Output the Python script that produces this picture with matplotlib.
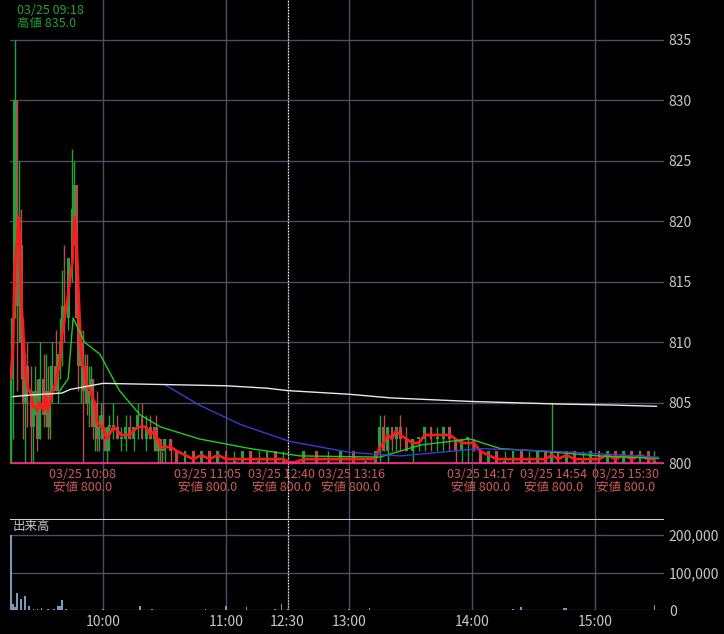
import matplotlib
matplotlib.use("Agg")
import matplotlib.pyplot as plt
import pandas as pd

plt.rcParams['font.family'] = ['Noto Sans CJK JP', 'DejaVu Sans']

# minutes from 09:00, lunch (11:30-12:30) removed: 12:30 -> 150
t = [15, 16, 17, 18, 19, 20, 21, 22, 23, 25, 26, 27, 28, 29, 31, 32, 33, 34, 35, 37,
     38, 39, 40, 41, 43, 45, 46, 47, 48, 49, 50, 51, 52, 53, 54, 55, 56, 57, 58, 59,
     60, 61, 62, 63, 65, 67, 69, 71, 73, 75, 77, 79, 81, 83, 85, 86, 87, 88, 89, 90,
     93, 96, 100, 104, 108, 112, 116, 120, 124, 128, 132, 136, 140, 144, 148, 152,
     158, 164, 170, 176, 182, 188, 193, 195, 197, 199, 201, 203, 205, 208, 211, 214,
     217, 220, 223, 226, 229, 232, 235, 238, 241, 244, 248, 252, 256, 260, 264, 268,
     272, 276, 279, 282, 286, 290, 294, 298, 302, 306, 310, 314, 318, 322, 326, 329]
o = [800, 807, 812, 830, 813, 818, 810, 805, 808, 806, 803, 805, 806, 802, 807, 804, 806, 803, 806, 808,
     806, 809, 810, 813, 812, 817, 821, 823, 812, 808, 810, 806, 808, 805, 806, 807, 803, 805, 802, 803,
     804, 802, 801, 803, 803, 803, 802, 802, 803, 802, 803, 804, 802, 803, 802, 803, 801, 802, 801, 801,
     802, 801, 800, 801, 800, 801, 800, 801, 800, 800, 801, 800, 800, 801, 800, 800,
     800, 801, 800, 800, 801, 800, 800, 801, 803, 801, 803, 802, 803, 802, 801, 802,
     802, 803, 802, 802, 803, 802, 801, 802, 802, 801, 800, 801, 800, 800, 801, 800,
     800, 801, 800, 801, 800, 801, 800, 800, 801, 800, 801, 800, 801, 800, 801, 800]
h = [812, 815, 835, 830, 825, 821, 812, 809, 810, 808, 806, 808, 807, 810, 809, 809, 808, 808, 810, 811,
     809, 812, 816, 818, 817, 826, 825, 823, 813, 811, 811, 809, 809, 808, 808, 807, 805, 806, 804, 805,
     805, 803, 803, 804, 805, 804, 803, 804, 804, 803, 805, 805, 804, 804, 803, 804, 802, 802, 801, 802,
     802, 801, 801, 801, 801, 801, 801, 801, 801, 801, 801, 801, 801, 801, 801, 800,
     801, 801, 801, 801, 801, 800, 801, 804, 804, 803, 803, 803, 804, 803, 802, 802,
     803, 803, 803, 803, 803, 802, 802, 802, 802, 801, 801, 801, 801, 801, 801, 801,
     801, 801, 805, 801, 801, 801, 801, 801, 801, 801, 801, 801, 801, 801, 801, 801]
l = [800, 802, 812, 806, 810, 807, 802, 800, 803, 800, 800, 804, 801, 802, 803, 803, 802, 802, 805, 806,
     805, 807, 808, 810, 811, 815, 818, 812, 806, 805, 800, 805, 804, 803, 804, 802, 801, 801, 801, 802,
     802, 801, 800, 801, 802, 802, 801, 801, 802, 801, 802, 802, 801, 802, 801, 801, 800, 800, 800, 800,
     800, 800, 800, 800, 800, 800, 800, 800, 800, 800, 800, 800, 800, 800, 800, 800,
     800, 800, 800, 800, 800, 800, 800, 800, 801, 800, 801, 801, 801, 801, 800, 801,
     801, 801, 801, 801, 801, 800, 800, 800, 801, 800, 800, 800, 800, 800, 800, 800,
     800, 800, 800, 800, 800, 800, 800, 800, 800, 800, 800, 800, 800, 800, 800, 800]
c = [807, 812, 830, 813, 818, 810, 805, 808, 806, 803, 805, 806, 802, 807, 804, 806, 803, 806, 808, 806,
     809, 810, 813, 812, 817, 821, 823, 812, 808, 810, 806, 808, 805, 806, 807, 803, 805, 802, 803, 804,
     802, 801, 803, 803, 803, 802, 802, 803, 802, 803, 804, 802, 803, 802, 803, 801, 802, 801, 801, 802,
     801, 800, 801, 800, 801, 800, 801, 800, 800, 801, 800, 800, 801, 800, 800, 800,
     801, 800, 800, 801, 800, 800, 801, 803, 801, 803, 802, 803, 802, 801, 802, 802,
     803, 802, 802, 803, 802, 801, 802, 802, 801, 800, 801, 800, 800, 801, 800, 800,
     801, 800, 801, 800, 801, 800, 800, 801, 800, 801, 800, 801, 800, 801, 800, 800]

vwap_t = [16, 22, 40, 44, 60, 90, 120, 140, 150, 180, 200, 240, 280, 310, 330]
vwap = [805.5, 805.6, 805.8, 806.1, 806.6, 806.5, 806.4, 806.2, 806.0, 805.7, 805.4, 805.1, 804.9, 804.8, 804.7]
green_t = [39, 43, 45.4, 51, 58.5, 68, 78, 88, 107, 132, 156, 195, 205, 215, 239, 254, 273, 302, 331]
green = [806, 807, 812, 810, 809, 806, 804, 803, 802, 801.2, 800.6, 800.5, 801, 801.5, 802, 801.2, 801, 800.6, 800.4]
blue_t = [90, 107, 127, 151, 180, 205, 244, 278, 331]
blue = [806.5, 804.8, 803.2, 801.8, 800.9, 800.6, 801.2, 801.0, 800.5]

vol_t = [15, 16, 17, 18, 20, 22, 24, 26, 28, 30, 33, 36, 38, 39, 40, 42, 44, 48, 52, 60,
         78, 84, 110, 120, 130, 144, 147, 150, 160, 180, 190, 260, 264, 285, 286, 329]
vol = [200000, 15000, 8000, 45000, 30000, 38000, 10000, 3000, 2000, 6000, 3000, 2000, 10000, 10000, 28000, 2000, 1000, 1000, 1000, 2000,
       12000, 2000, 3000, 10000, 9000, 3000, 15000, 4000, 1000, 3000, 5000, 3000, 8000, 6000, 6000, 14000]

low_pos = [50, 111, 147, 181, 244, 280, 315]
low_time = ['10:08', '11:05', '12:40', '13:16', '14:17', '14:54', '15:30']
tick_t = [60, 120, 150, 180, 240, 300]
tick_lab = ['10:00', '11:00', '12:30', '13:00', '14:00', '15:00']

grid_c = '#4a4e5e'
fig = plt.figure(figsize=(7.24, 6.34), dpi=100, facecolor='black')
ax = fig.add_axes([10/724, 114/634, 654/724, 520/634], facecolor='black')
av = fig.add_axes([10/724, 24/634, 654/724, 90/634], facecolor='black')
x0, x1 = 14.6, 333.7
for a in (ax, av):
    a.set_xlim(x0, x1)
    for s in a.spines.values():
        s.set_visible(False)
    a.tick_params(colors='#c8c8c8', length=0, labelsize=10)
    a.set_xticks(tick_t)
    a.yaxis.tick_right()
    a.grid(True, color=grid_c, lw=1)
    a.set_axisbelow(True)
    a.axvline(150, color='white', ls=':', lw=0.8)
ax.set_xticklabels([])
ax.set_ylim(795.3, 838.3)
ax.set_yticks([800, 805, 810, 815, 820, 825, 830, 835])

up_c, dn_c = '#1fa33a', '#b0504c'
for ti, oi, hi, li, ci in zip(t, o, h, l, c):
    col = up_c if ci >= oi else dn_c
    ax.vlines(ti, li, hi, color=col, lw=1)
    ax.bar(ti, max(abs(ci - oi), 0.15), bottom=min(oi, ci), width=1.4, color=col, lw=0)

cs = pd.Series(c)
ax.plot(t, cs.rolling(3, min_periods=1).mean(), color='#ff1a1a', lw=2)
ax.plot(green_t, green, color='#22cc22', lw=1)
ax.plot(blue_t, blue, color='#3a3ad8', lw=1)
ax.plot(vwap_t, vwap, color='#e8e8e8', lw=1)
ax.axhline(800, color='#ff2a8a', lw=1.2)
ax.axhline(795.3, color='#cfcfcf', lw=1.5)

ax.text(18, 838.0, '03/25 09:18\n高値 835.0', color='#1fa33a', fontsize=9, va='top', ha='left', linespacing=1.0)
for p, tl in zip(low_pos, low_time):
    ax.text(p, 799.6, '03/25 ' + tl + '\n安値 800.0', color='#d05a5a', fontsize=9,
            va='top', ha='center', linespacing=1.05)

av.set_ylim(0, 240500)
av.set_yticks([0, 100000, 200000])
av.set_yticklabels(['0', '100,000', '200,000'])
av.set_xticklabels(tick_lab)
av.bar(vol_t, vol, width=0.8, color='#7a9ab8')
av.text(16, 222000, '出来高', color='#c8c8c8', fontsize=9, va='center')

fig.savefig('out.png', dpi=100, facecolor='black')
